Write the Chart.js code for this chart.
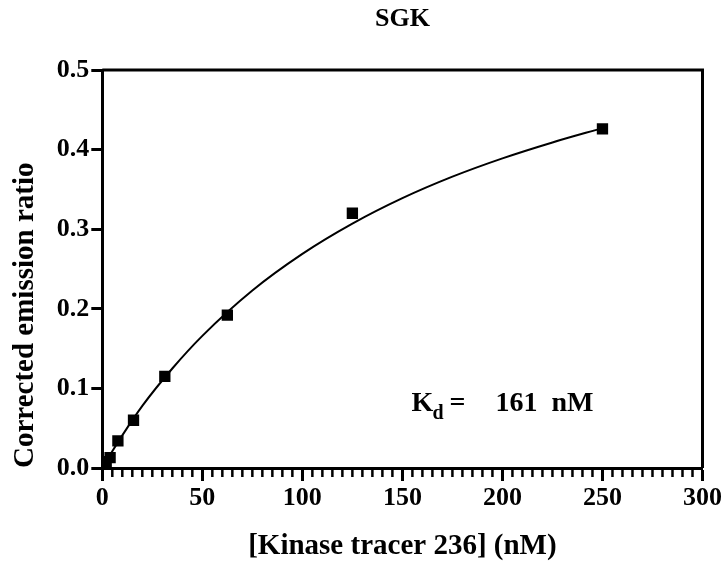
<!DOCTYPE html>
<html>
<head>
<meta charset="utf-8">
<script src="https://cdn.jsdelivr.net/npm/chart.js@4"></script>
<style>
  html, body { margin: 0; padding: 0; background: #fff; }
  #wrap { width: 724px; height: 566px; }
</style>
</head>
<body>
<div id="wrap"><canvas id="grafico"></canvas></div>
<script>
// measured points (tracer concentration in nM, corrected emission ratio)
const tracerConc = [0.49, 0.98, 1.95, 3.9, 7.8, 15.6, 31.25, 62.5, 125, 250];
const emissionRatio = [0.002, 0.004, 0.008, 0.013, 0.034, 0.060, 0.115, 0.192, 0.320, 0.426];

// fitted curve
const curveX = [0, 5, 10, 20, 35, 50, 75, 100, 125, 150, 175, 200, 225, 250];
const curveY = [0, 0.021, 0.041, 0.078, 0.125, 0.166, 0.223, 0.269, 0.307, 0.339, 0.366, 0.389, 0.409, 0.427];

const xTicks = [0, 50, 100, 150, 200, 250, 300];
const yTicks = [0, 0.1, 0.2, 0.3, 0.4, 0.5];

const fonte = 'Liberation Serif, Times New Roman, serif';

// title over the plot, minor ticks on x, frame around plot, Kd label
const extras = {
  id: 'extras',
  afterDraw(chart) {
    const { ctx, chartArea: a, scales: { x, y } } = chart;
    ctx.save();
    ctx.fillStyle = '#000';
    ctx.textAlign = 'center';
    ctx.textBaseline = 'middle';
    ctx.font = 'bold 26px ' + fonte;
    ctx.fillText('SGK', (a.left + a.right) / 2, 19);

    ctx.strokeStyle = '#000';
    ctx.lineWidth = 2.5;
    for (let v = 5; v < 300; v += 5) {
      if (v % 50 === 0) continue;
      const px = x.getPixelForValue(v);
      ctx.beginPath();
      ctx.moveTo(px, a.bottom);
      ctx.lineTo(px, a.bottom + 9);
      ctx.stroke();
    }
    // frame top and right
    ctx.lineWidth = 3;
    ctx.beginPath();
    ctx.moveTo(a.left, a.top);
    ctx.lineTo(a.right, a.top);
    ctx.lineTo(a.right, a.bottom);
    ctx.stroke();

    // Kd text
    const tx = x.getPixelForValue(154.5);
    const ty = y.getPixelForValue(0.071);
    ctx.textAlign = 'left';
    ctx.textBaseline = 'alphabetic';
    ctx.font = 'bold 28px ' + fonte;
    ctx.fillText('K', tx, ty);
    ctx.font = 'bold 20px ' + fonte;
    ctx.fillText('d', tx + 21, ty + 8);
    ctx.font = 'bold 28px ' + fonte;
    ctx.fillText('=', tx + 38, ty);
    ctx.fillText('161', tx + 84, ty);
    ctx.fillText('nM', tx + 140, ty);
    ctx.restore();
  }
};

new Chart(document.getElementById('grafico'), {
  type: 'scatter',
  data: {
    datasets: [
      {
        type: 'line',
        label: 'ajuste',
        data: curveX.map((v, i) => ({ x: v, y: curveY[i] })),
        borderColor: '#000',
        borderWidth: 2,
        pointRadius: 0,
        cubicInterpolationMode: 'monotone',
        fill: false
      },
      {
        label: 'SGK',
        data: tracerConc.map((v, i) => ({ x: v, y: emissionRatio[i] })),
        backgroundColor: '#000',
        borderColor: '#000',
        borderWidth: 0,
        pointStyle: 'rect',
        pointRadius: 8,
        pointHoverRadius: 8
      }
    ]
  },
  options: {
    responsive: true,
    maintainAspectRatio: false,
    animation: false,
    layout: { padding: { left: 8, right: 21, top: 70, bottom: 2 } },
    plugins: {
      legend: { display: false },
      tooltip: { enabled: false },
      title: { display: false }
    },
    scales: {
      x: {
        type: 'linear',
        min: 0,
        max: 300,
        afterBuildTicks: s => { s.ticks = xTicks.map(v => ({ value: v })); },
        ticks: {
          color: '#000',
          font: { family: fonte, size: 26, weight: 'bold' },
          padding: 2,
          maxRotation: 0
        },
        grid: { display: true, drawOnChartArea: false, color: '#000', tickLength: 13, tickWidth: 3 },
        border: { display: true, color: '#000', width: 3 },
        title: {
          display: true,
          text: '[Kinase tracer 236] (nM)',
          color: '#000',
          font: { family: fonte, size: 29, weight: 'bold' },
          padding: { top: 13, bottom: 0 }
        }
      },
      y: {
        type: 'linear',
        min: 0,
        max: 0.5,
        afterBuildTicks: s => { s.ticks = yTicks.map(v => ({ value: v })); },
        ticks: {
          color: '#000',
          font: { family: fonte, size: 26, weight: 'bold' },
          padding: 2,
          callback: v => v.toFixed(1)
        },
        grid: { display: true, drawOnChartArea: false, color: '#000', tickLength: 11, tickWidth: 3 },
        border: { display: true, color: '#000', width: 3 },
        title: {
          display: true,
          text: 'Corrected emission ratio',
          color: '#000',
          align: 'start',
          font: { family: fonte, size: 29, weight: 'bold' },
          padding: { top: 0, bottom: 12 }
        }
      }
    }
  },
  plugins: [extras]
});
</script>
</body>
</html>
